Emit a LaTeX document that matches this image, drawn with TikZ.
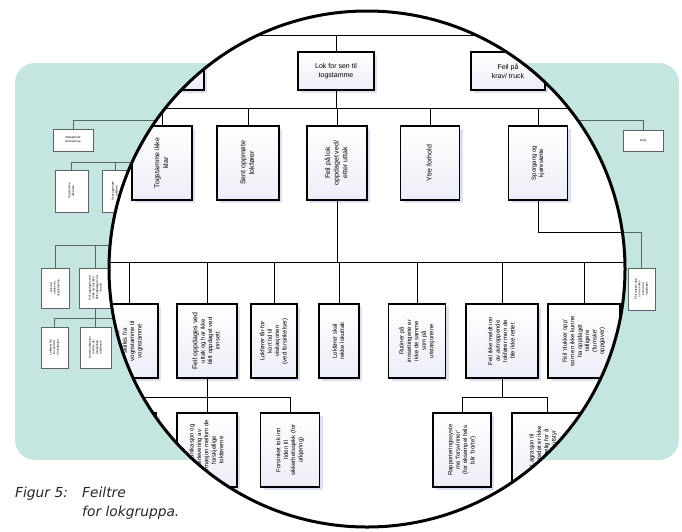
\documentclass[tikz,border=0pt]{standalone}
\usepackage{fontspec}
\setmainfont{Liberation Sans}
\newfontfamily\capfont{DejaVu Sans}
\usetikzlibrary{shadows}
\definecolor{panel}{HTML}{C5E5E0}
\definecolor{outline}{HTML}{5A6664}
\definecolor{boxshade}{HTML}{D5D9EE}
\definecolor{captext}{HTML}{262626}
% rotated multi-line label, read from bottom to top
\newcommand{\vtext}[1]{\rotatebox{90}{\begin{tabular}{@{}c@{}}#1\end{tabular}}}
\begin{document}
\begin{tikzpicture}[x=1pt,y=-1pt,
  inbox/.style={draw=black, line width=1.5pt, top color=white, bottom color=boxshade!45,
    drop shadow={shadow xshift=3pt, shadow yshift=-3pt, fill=boxshade, opacity=0.8},
    inner sep=1pt, align=center, font=\fontsize{7}{8.6}\selectfont},
  smalltext/.style={font=\fontsize{6}{7.4}\selectfont},
  outbox/.style={draw=outline, line width=0.7pt, fill=white,
    drop shadow={shadow xshift=1.5pt, shadow yshift=-1.5pt, fill=boxshade, opacity=0.8},
    inner sep=0.5pt, align=center, font=\fontsize{3}{3.6}\selectfont},
  inline/.style={draw=black, line width=0.9pt},
  outline line/.style={draw=outline, line width=0.6pt},
  caption/.style={anchor=base west, inner sep=0pt, text=captext,
    font=\capfont\fontsize{13.8}{16}\selectfont\itshape}]
\useasboundingbox (0,0) rectangle (682,531);

% teal panel
\fill[panel, rounded corners=20pt] (15,63) rectangle (679,460);

% ---- small overview tree on the panel ----
\node[outbox, minimum width=40, minimum height=22] (o1) at (73,140) {Manglende\\bemanning};
\node[outbox, minimum width=33, minimum height=42] (o2) at (71.5,191) {\vtext{Togstamme\\ikke klar}};
\node[outbox, minimum width=26, minimum height=42] (o3) at (115,191) {\vtext{Sent oppmøte\\lokfører}};
\coordinate (ob0) at (200,120);
\coordinate (ob1) at (200,162);
\draw[outline line] (o1.north) |- (ob0);
\draw[outline line] (o2.north) |- (ob1);
\draw[outline line] (o3.north) -- (o3.north |- ob1);

\node[outbox, minimum width=40, minimum height=21] (o4) at (643,140.5) {Ising};
\coordinate (ob2) at (560,120);
\draw[outline line] (o4.north) |- (ob2);

\node[outbox, minimum width=27, minimum height=42] (o5) at (641.5,289) {\vtext{Feil dukker opp\\som en ikke\\kunne ha\\oppdaget}};
\coordinate (ob3) at (560,232);
\draw[outline line] (o5.north) |- (ob3);

\node[outbox, minimum width=28, minimum height=40] (oa) at (55,288) {\vtext{Lok må\\skilles fra\\vognstamme}};
\node[outbox, minimum width=33, minimum height=40] (ob) at (95.5,288) {\vtext{Feil oppdages ved\\uttak og har ikke\\blitt oppdaget ved\\innsett}};
\node[outbox, minimum width=27, minimum height=41] (oc) at (54.5,347.5) {\vtext{Lokfører får\\for kort tid\\til visitasjon}};
\node[outbox, minimum width=31, minimum height=41] (od) at (95.5,347.5) {\vtext{Kommunikasjon\\mellom de\\forskjellige\\lokførerne}};
\coordinate (ob4) at (200,245);
\coordinate (ob5) at (200,318);
\draw[outline line] (oa.north) |- (ob4);
\draw[outline line] (ob.north) -- (ob.north |- ob4);
\draw[outline line] (oc.north) |- (ob5);
\draw[outline line] (ob.south) -- (od.north);

% ---- magnifying lens ----
\fill[white] (367,269) circle[radius=258];
\begin{scope}
\clip (367,269) circle[radius=258];

% buses
\coordinate (bus0w) at (90,35);   \coordinate (bus0e) at (660,35);
\coordinate (bus1w) at (90,108);  \coordinate (bus1e) at (660,108);
\coordinate (bus2w) at (90,262);  \coordinate (bus2e) at (660,262);
\coordinate (bus3w) at (90,397);
\coordinate (k5) at (660,232);
\coordinate (k4) at (502,397);
\draw[inline] (bus0w) -- (bus0e);
\draw[inline] (bus1w) -- (bus1e);
\draw[inline] (bus2w) -- (bus2e);

% top row
\node[inbox, minimum width=84, minimum height=38] (l0a) at (162,71) {};
\node[inbox, minimum width=76, minimum height=38] (l0b) at (336,71) {Lok for sen til\\togstamme};
\node[inbox, minimum width=74, minimum height=38] (l0c) at (508,71) {Feil på\\krav/ truck};
\foreach \n in {l0a,l0b,l0c} \draw[inline] (\n.north) -- (\n.north |- bus0w);
\draw[inline] (l0b.south) -- (l0b.south |- bus1w);

% causes under "Lok for sen til togstamme"
\node[inbox, minimum width=60, minimum height=74] (t1) at (162,163) {\vtext{Togstamme ikke\\klar}};
\node[inbox, minimum width=62, minimum height=74] (t2) at (248,163) {\vtext{Sent oppmøte\\lokfører}};
\node[inbox, minimum width=60, minimum height=74] (t3) at (337,163) {\vtext{Feil på lok\\oppdaget ved/\\etter uttak}};
\node[inbox, minimum width=59, minimum height=74] (t4) at (430,163) {\vtext{Ytre forhold}};
\node[inbox, smalltext, minimum width=59, minimum height=74] (t5) at (538,163) {\vtext{Sporgang og\\kjørestøtte}};
\foreach \n in {t1,t2,t3,t4,t5} \draw[inline] (\n.north) -- (\n.north |- bus1w);
\draw[inline] (t3.south) -- (t3.south |- bus2w);
\draw[inline] (t5.south) |- (k5);

% causes under "Feil på lok oppdaget ved/etter uttak"
\node[inbox, smalltext, minimum width=58, minimum height=74] (b1) at (129,341) {\vtext{Lok må\\skilles fra\\vognstamme til\\vognstamme}};
\node[inbox, smalltext, minimum width=60, minimum height=74] (b2) at (207,341) {\vtext{{\fontsize{7}{7.4}\selectfont Feil oppdages ved}\\uttak og har ikke\\blitt oppdaget ved\\innsett}};
\node[inbox, smalltext, minimum width=46, minimum height=74] (b3) at (274,341) {\vtext{Lokfører får for\\kort tid til\\visitasjonen\\(ved forsinkelser)}};
\node[inbox, smalltext, minimum width=40, minimum height=74] (b4) at (339,341) {\vtext{Lokfører skal\\rekke lokuttak}};
\node[inbox, smalltext, minimum width=57, minimum height=74] (b5) at (417,341) {\vtext{Rutiner på\\innsettingene er\\ikke de samme\\som på\\utstasjonene}};
\node[inbox, smalltext, minimum width=72, minimum height=74] (b6) at (502,341) {\vtext{Feil ikke meldt inn\\av avtroppende\\lokfører men de\\ble ikke rettet}};
\node[inbox, smalltext, minimum width=72, minimum height=74] (b7) at (584,341) {\vtext{Feil `dukker opp'\\som en ikke kunne\\ha oppdaget\\tidligere\\(`lumske'\\oppgaver)}};
\foreach \n in {b1,b2,b3,b4,b5,b6,b7} \draw[inline] (\n.north) -- (\n.north |- bus2w);

% third row
\node[inbox, smalltext, minimum width=57, minimum height=74] (c1) at (128,450) {};
\node[inbox, smalltext, minimum width=60, minimum height=74] (c2) at (207,450) {\vtext{Kommunikasjon og\\overlevering av\\informasjon mellom de\\forskjellige\\lokførerne}};
\node[inbox, smalltext, minimum width=59, minimum height=74] (c3) at (290,450) {\vtext{Forsinket tok inn\\tiden til\\sikkerhetssjekk (for\\utkjøring)}};
\node[inbox, smalltext, minimum width=58, minimum height=74] (d1) at (462,450) {\vtext{Rapporteringssyste\\me `forsvinner'\\(for eksempel feils\\blir `borte')}};
\node[inbox, smalltext, minimum width=70, minimum height=74] (d2) at (547,450) {\vtext{Lagrasjon til\\verkstedet er ikke\\tilgjengelig for å\\reparere utstyr\\for}};
\draw[inline] (b2.south) -- (c2.north);
\draw[inline] (bus3w) -| (c3.north);
\draw[inline] (c1.north) -- (c1.north |- bus3w);
\draw[inline] (b6.south) -- (k4);
\draw[inline] (d1.north) |- (k4) -| (d2.north);
\end{scope}
\draw[line width=3pt] (367,269) circle[radius=258];

% caption
\node[caption] (cap1) at (15,497) {Figur 5:};
\node[caption] (cap2) at (82,497) {Feiltre};
\node[caption] (cap3) at (82,516) {for lokgruppa.};
\end{tikzpicture}
\end{document}
